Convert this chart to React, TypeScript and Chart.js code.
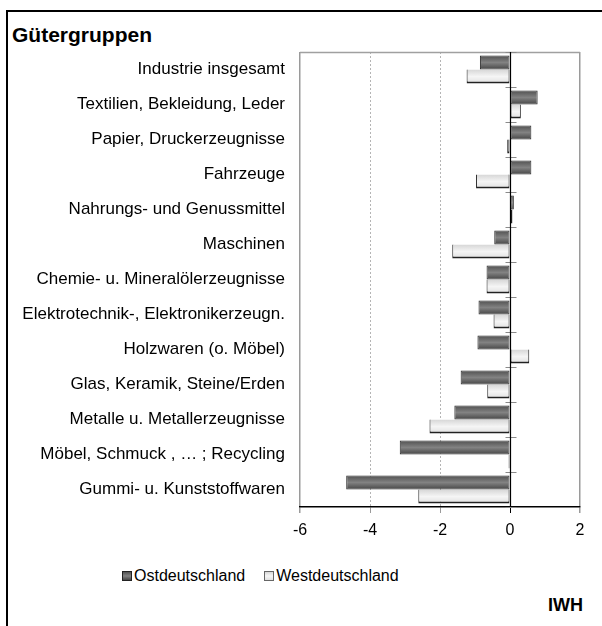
import React, { useEffect, useRef } from "react";
import { Chart, registerables } from "chart.js";

Chart.register(...registerables);

const categories = [
  "Industrie insgesamt",
  "Textilien, Bekleidung, Leder",
  "Papier, Druckerzeugnisse",
  "Fahrzeuge",
  "Nahrungs- und Genussmittel",
  "Maschinen",
  "Chemie- u. Mineralölerzeugnisse",
  "Elektrotechnik-, Elektronikerzeugn.",
  "Holzwaren (o. Möbel)",
  "Glas, Keramik, Steine/Erden",
  "Metalle u. Metallerzeugnisse",
  "Möbel, Schmuck , … ; Recycling",
  "Gummi- u. Kunststoffwaren",
];
const ostValues = [-0.86, 0.79, 0.61, 0.61, 0.11, -0.45, -0.67, -0.9, -0.93, -1.41, -1.59, -3.15, -4.68];
const westValues = [-1.24, 0.31, -0.08, -0.97, 0.07, -1.65, -0.67, -0.47, 0.55, -0.65, -2.3, -0.04, -2.62];
const xTicks = [-6, -4, -2, 0, 2];
const seriesNames = ["Ostdeutschland", "Westdeutschland"];

const FONT = "'Liberation Sans', Arial, sans-serif";
const ostStops: [number, string][] = [[0, "#505050"], [0.5, "#828282"], [1, "#454545"]];
const westStops: [number, string][] = [[0, "#d6d6d6"], [0.5, "#f5f5f5"], [1, "#e0e0e0"]];

const isEdge = (v: number) => v === xTicks[0] || v === xTicks[xTicks.length - 1];

function barGradient(stops: [number, string][], side: number, catPct: number) {
  return (c: any) => {
    const chart = c.chart;
    const ys = chart.scales && chart.scales.y;
    if (!ys || c.dataIndex === undefined || !chart.chartArea) return stops[1][1];
    const center = ys.getPixelForValue(c.dataIndex);
    const cat = Math.abs(ys.getPixelForValue(1) - ys.getPixelForValue(0));
    const bw = (cat * catPct) / 2;
    const top = side < 0 ? center - bw : center;
    if (!isFinite(top) || !isFinite(bw) || bw <= 0) return stops[1][1];
    const g = chart.ctx.createLinearGradient(0, top, 0, top + bw);
    stops.forEach(([o, col]) => g.addColorStop(o, col));
    return g;
  };
}

const dottedGrid = {
  id: "dottedGrid",
  beforeDatasetsDraw(chart: any) {
    const { ctx, chartArea, scales } = chart;
    const x = scales.x;
    ctx.save();
    ctx.strokeStyle = "#b4b4b4";
    ctx.lineWidth = 1;
    ctx.setLineDash([2, 2]);
    ctx.beginPath();
    xTicks.forEach((v) => {
      if (v === 0 || isEdge(v)) return;
      const px = Math.floor(x.getPixelForValue(v)) + 0.5;
      ctx.moveTo(px, chartArea.top);
      ctx.lineTo(px, chartArea.bottom);
    });
    ctx.stroke();
    ctx.restore();
  },
};

const axisMarks = {
  id: "axisMarks",
  afterDatasetsDraw(chart: any) {
    const { ctx, chartArea, scales } = chart;
    const x = scales.x;
    const y = scales.y;
    const x0 = Math.floor(x.getPixelForValue(0)) + 0.5;
    ctx.save();
    ctx.strokeStyle = "#a0a0a0";
    ctx.lineWidth = 1.5;
    ctx.beginPath();
    ctx.moveTo(chartArea.left, chartArea.top + 0.5);
    ctx.lineTo(chartArea.right, chartArea.top + 0.5);
    ctx.stroke();
    const step = y.getPixelForValue(1) - y.getPixelForValue(0);
    ctx.strokeStyle = "#8a8a8a";
    ctx.lineWidth = 1;
    ctx.beginPath();
    for (let i = 0; i <= categories.length; i++) {
      const py = Math.floor(y.getPixelForValue(i) - step / 2) + 0.5;
      ctx.moveTo(x0 - 5, py);
      ctx.lineTo(x0 + 6, py);
    }
    ctx.stroke();
    ctx.strokeStyle = "#000";
    ctx.lineWidth = 1.2;
    ctx.beginPath();
    ctx.moveTo(x0, chartArea.top);
    ctx.lineTo(x0, chartArea.bottom);
    ctx.stroke();
    ctx.restore();
  },
};

export default function App() {
  const ref = useRef<HTMLCanvasElement>(null);

  useEffect(() => {
    if (!ref.current) return;
    const catPct = 0.8;
    const chart = new Chart(ref.current, {
      type: "bar",
      data: {
        labels: categories,
        datasets: [
          {
            label: seriesNames[0],
            data: ostValues,
            backgroundColor: barGradient(ostStops, -1, catPct),
            borderColor: "#2a2a2a",
            borderWidth: { top: 1, bottom: 1, left: 1, right: 1 },
            borderSkipped: false,
            categoryPercentage: catPct,
            barPercentage: 1,
          },
          {
            label: seriesNames[1],
            data: westValues,
            backgroundColor: barGradient(westStops, 1, catPct),
            borderColor: "#222222",
            borderWidth: { top: 0, bottom: 2, left: 1, right: 1 },
            borderSkipped: false,
            categoryPercentage: catPct,
            barPercentage: 1,
          },
        ],
      },
      options: {
        indexAxis: "y",
        animation: false,
        responsive: false,
        maintainAspectRatio: false,
        layout: { padding: { top: 52, right: 22, left: 0, bottom: 0 } },
        plugins: {
          legend: { display: false },
          tooltip: { enabled: false },
          title: { display: false },
        },
        scales: {
          x: {
            type: "linear",
            min: xTicks[0],
            max: xTicks[xTicks.length - 1],
            afterBuildTicks: (s: any) => {
              s.ticks = xTicks.map((v) => ({ value: v }));
            },
            afterFit: (s: any) => {
              s.height = 43;
            },
            grid: {
              color: (c: any) => {
                const v = c.tick && c.tick.value;
                if (v === 0) return "#000";
                if (isEdge(v)) return "#9a9a9a";
                return "rgba(0,0,0,0)";
              },
              tickColor: (c: any) => {
                const v = c.tick && c.tick.value;
                if (v === 0) return "#000";
                return "#9a9a9a";
              },
              lineWidth: (c: any) => {
                const v = c.tick && c.tick.value;
                if (isEdge(v)) return 1.5;
                return 1;
              },
              tickLength: 6,
            },
            border: { display: true, color: "#000", width: 1.5 },
            ticks: {
              color: "#000",
              font: { family: FONT, size: 16 },
              padding: 8,
            },
          },
          y: {
            type: "category",
            afterFit: (s: any) => {
              s.width = 300;
            },
            grid: { display: false, drawTicks: false },
            border: { display: false },
            ticks: {
              color: "#000",
              font: { family: FONT, size: 17 },
              padding: 15,
              autoSkip: false,
            },
          },
        },
      },
      plugins: [dottedGrid, axisMarks],
    });
    return () => chart.destroy();
  }, []);

  const legendBox = (stops: [number, string][], border: string) => ({
    display: "inline-block",
    width: 8,
    height: 8,
    border: `1px solid ${border}`,
    background: `linear-gradient(to bottom, ${stops.map(([o, c]) => `${c} ${o * 100}%`).join(", ")})`,
    marginRight: 2,
  });

  return (
    <div style={{ position: "absolute", left: 0, top: 0, width: 602, height: 626, overflow: "hidden", background: "#fff", fontFamily: FONT }}>
      <div style={{ position: "absolute", left: 6, top: 10, width: 596, height: 2, background: "#000" }} />
      <div style={{ position: "absolute", left: 6, top: 10, width: 2, height: 616, background: "#000" }} />
      <div style={{ position: "absolute", left: 12, top: 24, fontSize: 21, lineHeight: "21px", fontWeight: "bold", color: "#000" }}>Gütergruppen</div>
      <canvas ref={ref} width={602} height={550} style={{ position: "absolute", left: 0, top: 0, width: 602, height: 550 }} />
      <div style={{ position: "absolute", left: 122, top: 567, fontSize: 16, lineHeight: "18px", color: "#000", display: "flex", alignItems: "center", whiteSpace: "nowrap" }}>
        <span style={legendBox(ostStops, "#222")} />
        <span>{seriesNames[0]}</span>
        <span style={{ display: "inline-block", width: 19 }} />
        <span style={legendBox(westStops, "#666")} />
        <span>{seriesNames[1]}</span>
      </div>
      <div style={{ position: "absolute", left: 548, top: 596, fontSize: 18, lineHeight: "18px", fontWeight: "bold", color: "#000" }}>IWH</div>
    </div>
  );
}
